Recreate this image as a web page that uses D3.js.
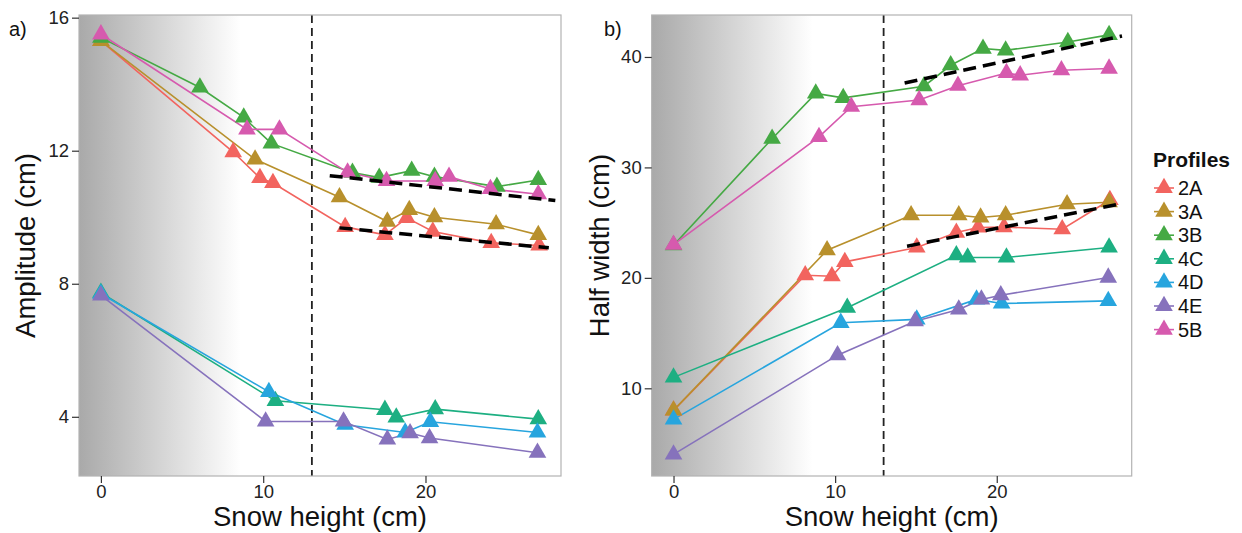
<!DOCTYPE html>
<html>
<head>
<meta charset="utf-8">
<script src="https://cdn.jsdelivr.net/npm/d3@7"></script>
<style>
  body { margin: 0; background: #fff; }
  text { font-family: "Liberation Sans", Arial, Helvetica, sans-serif; }
</style>
</head>
<body>
<svg id="chart" width="1242" height="533"></svg>
<script>
// Profiles and their colours
const profiles = ["2A", "3A", "3B", "4C", "4D", "4E", "5B"];
const profileColors = ["#F2645F", "#B8902C", "#45A944", "#1DAF82", "#27A5DE", "#8672BC", "#D65AAE"];

// Snow height (cm) at each measurement, per profile
const snow2A = [0, 8.15, 9.8, 10.6, 15.05, 17.5, 18.85, 20.45, 24.05, 27.0];
const snow3A = [0, 9.5, 14.7, 17.65, 19.0, 20.55, 24.35, 26.95];
const snow3B = [0, 6.1, 8.8, 10.5, 15.5, 17.15, 19.15, 20.55, 24.4, 26.95];
const snow4C = [0, 10.75, 17.5, 18.2, 20.6, 26.95];
const snow4D = [0, 10.35, 15.05, 18.75, 20.3, 26.9];
const snow4E = [0, 10.15, 14.95, 17.65, 19.05, 20.25, 26.9];
const snow5B = [0, 9.0, 11.0, 15.2, 17.6, 20.6, 21.45, 24.0, 26.95];

// Amplitude (cm)
const amp2A = [15.3, 11.96, 11.18, 11.03, 9.71, 9.47, 9.98, 9.57, 9.23, 9.15];
const amp3A = [15.3, 11.74, 10.6, 9.87, 10.22, 10.0, 9.79, 9.47];
const amp3B = [15.4, 13.9, 13.0, 12.22, 11.34, 11.19, 11.4, 11.22, 10.92, 11.12];
const amp4C = [7.73, 4.48, 4.21, 3.98, 4.23, 3.93];
const amp4D = [7.7, 4.75, 3.76, 3.53, 3.85, 3.53];
const amp4E = [7.65, 3.86, 3.86, 3.32, 3.51, 3.36, 2.92];
const amp5B = [15.5, 12.64, 12.64, 11.35, 11.09, 11.09, 11.22, 10.85, 10.69];

// Half width (cm)
const hw2A = [8.0, 20.24, 20.15, 21.45, 22.75, 24.1, 24.56, 24.6, 24.4, 27.05];
const hw3A = [8.0, 22.5, 25.67, 25.67, 25.47, 25.67, 26.67, 26.85];
const hw3B = [22.96, 32.6, 36.7, 36.3, 37.35, 39.25, 40.76, 40.6, 41.36, 42.0];
const hw4C = [10.99, 17.3, 22.05, 21.85, 21.85, 22.75];
const hw4D = [7.19, 15.93, 16.24, 18.05, 17.68, 17.92];
const hw4E = [4.02, 13.0, 16.08, 17.14, 18.04, 18.43, 20.03];
const hw5B = [23.0, 32.76, 35.5, 36.1, 37.4, 38.55, 38.34, 38.8, 38.95];

// Fitted trends over the deeper snow (start and end points)
const trendAmpHigh = [[14.1, 11.25], [28.0, 10.5]];
const trendAmpLow = [[14.7, 9.68], [27.6, 9.08]];
const trendHwHigh = [[14.3, 37.65], [27.75, 41.9]];
const trendHwLow = [[14.45, 22.87], [27.55, 26.67]];

// Axis ticks
const xTicks = [0, 10, 20];
const ampTicks = [4, 8, 12, 16];
const hwTicks = [10, 20, 30, 40];

// Threshold snow height and end of the shaded band
const thresholdSnow = 13;
const shadeEnd = 8.6;

const snowByProfile = [snow2A, snow3A, snow3B, snow4C, snow4D, snow4E, snow5B];
const ampByProfile = [amp2A, amp3A, amp3B, amp4C, amp4D, amp4E, amp5B];
const hwByProfile = [hw2A, hw3A, hw3B, hw4C, hw4D, hw4E, hw5B];

const svg = d3.select("#chart");
const defs = svg.append("defs");
const grad = defs.append("linearGradient").attr("id", "shade")
  .attr("x1", 0).attr("x2", 1).attr("y1", 0).attr("y2", 0);
grad.append("stop").attr("offset", "0%").attr("stop-color", "#a9a9a9");
grad.append("stop").attr("offset", "100%").attr("stop-color", "#ffffff");

const tri = d3.symbol().type(d3.symbolTriangle).size(135);

function drawPanel(o) {
  const x = d3.scaleLinear().domain([-1.35, 28.35]).range([o.left, o.right]);
  const y = d3.scaleLinear().domain(o.yDomain).range([o.bottom, o.top]);
  const g = svg.append("g");

  g.append("rect").attr("x", o.left).attr("y", o.top)
    .attr("width", o.right - o.left).attr("height", o.bottom - o.top).attr("fill", "#fff");
  g.append("rect").attr("x", o.left).attr("y", o.top)
    .attr("width", x(shadeEnd) - o.left).attr("height", o.bottom - o.top)
    .attr("fill", "url(#shade)");

  // threshold line
  g.append("line")
    .attr("x1", x(thresholdSnow)).attr("x2", x(thresholdSnow))
    .attr("y1", o.top).attr("y2", o.bottom)
    .attr("stroke", "#222").attr("stroke-width", 1.8).attr("stroke-dasharray", "8,5");

  const series = profiles.map((p, i) => ({
    name: p, color: profileColors[i],
    pts: snowByProfile[i].map((s, j) => [s, o.values[i][j]])
  }));

  const line = d3.line().x(d => x(d[0])).y(d => y(d[1]));
  g.selectAll("path.series").data(series).join("path")
    .attr("class", "series")
    .attr("d", d => line(d.pts))
    .attr("fill", "none").attr("stroke", d => d.color).attr("stroke-width", 1.6);

  series.forEach(s => {
    g.selectAll(null).data(s.pts).join("path")
      .attr("transform", d => `translate(${x(d[0])},${y(d[1])})`)
      .attr("d", tri).attr("fill", s.color);
  });

  g.selectAll("path.trend").data(o.trends).join("path")
    .attr("class", "trend")
    .attr("d", d => line(d))
    .attr("fill", "none").attr("stroke", "#000").attr("stroke-width", 3.5)
    .attr("stroke-dasharray", "13,7");

  // border
  g.append("rect").attr("x", o.left).attr("y", o.top)
    .attr("width", o.right - o.left).attr("height", o.bottom - o.top)
    .attr("fill", "none").attr("stroke", "#b3b3b3").attr("stroke-width", 1.2);

  const xAxis = g.append("g").attr("transform", `translate(0,${o.bottom})`)
    .call(d3.axisBottom(x).tickValues(xTicks).tickSize(7).tickPadding(2));
  const yAxis = g.append("g").attr("transform", `translate(${o.left},0)`)
    .call(d3.axisLeft(y).tickValues(o.yTicks).tickSize(7).tickPadding(3));
  [xAxis, yAxis].forEach(a => {
    a.select(".domain").remove();
    a.selectAll(".tick line").attr("stroke", "#333").attr("stroke-width", 1.2);
    a.selectAll(".tick text").attr("fill", "#222").attr("font-size", 18.5);
  });

  g.append("text").attr("x", (o.left + o.right) / 2).attr("y", 526)
    .attr("text-anchor", "middle").attr("font-size", 27.5).attr("fill", "#111")
    .text("Snow height (cm)");
  g.append("text")
    .attr("transform", `translate(${o.titleX},${(o.top + o.bottom) / 2}) rotate(-90)`)
    .attr("text-anchor", "middle").attr("font-size", 27.5).attr("fill", "#111")
    .text(o.title);
  g.append("text").attr("x", o.labelX).attr("y", 36)
    .attr("font-size", 20).attr("fill", "#111").text(o.label);
}

drawPanel({
  left: 79, right: 561, top: 15, bottom: 476,
  yDomain: [2.22, 16.08], yTicks: ampTicks, values: ampByProfile,
  trends: [trendAmpHigh, trendAmpLow],
  title: "Amplitude (cm)", titleX: 35, label: "a)", labelX: 9
});

drawPanel({
  left: 651.7, right: 1131.7, top: 15, bottom: 476,
  yDomain: [2.06, 43.8], yTicks: hwTicks, values: hwByProfile,
  trends: [trendHwHigh, trendHwLow],
  title: "Half width (cm)", titleX: 609, label: "b)", labelX: 604
});

// Legend
const legend = svg.append("g").attr("transform", "translate(1153,0)");
legend.append("text").attr("x", 0).attr("y", 167)
  .attr("font-size", 21).attr("font-weight", "bold").attr("fill", "#111").text("Profiles");
const items = legend.selectAll("g.item").data(profiles).join("g")
  .attr("class", "item")
  .attr("transform", (d, i) => `translate(0,${188 + i * 23.6})`);
items.append("line").attr("x1", 1).attr("x2", 21).attr("y1", 0).attr("y2", 0)
  .attr("stroke", (d, i) => profileColors[i]).attr("stroke-width", 1.6);
items.append("path").attr("transform", "translate(11,0)").attr("d", tri)
  .attr("fill", (d, i) => profileColors[i]);
items.append("text").attr("x", 25).attr("y", 7).attr("font-size", 20)
  .attr("fill", "#111").text(d => d);
</script>
</body>
</html>
